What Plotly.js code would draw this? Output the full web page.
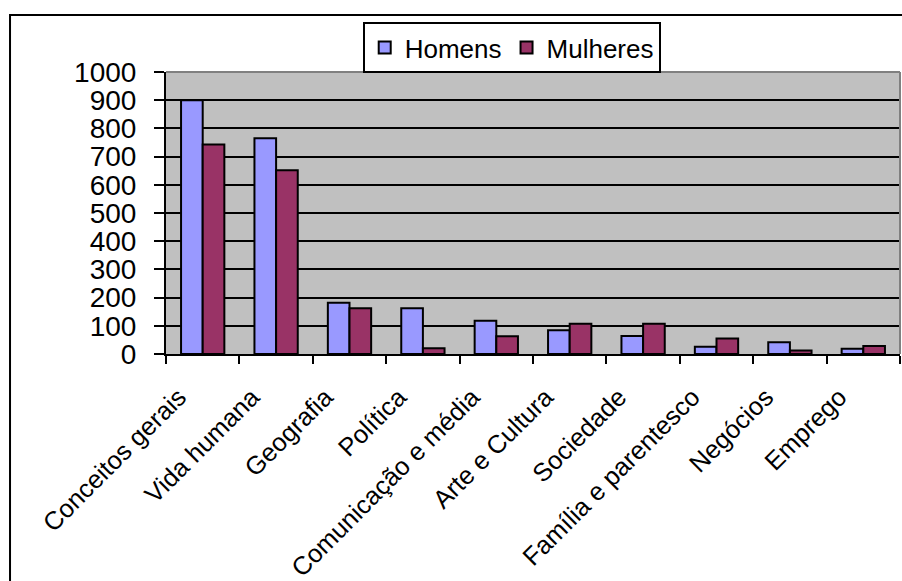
<!DOCTYPE html>
<html><head><meta charset="utf-8">
<script src="https://cdn.plot.ly/plotly-3.0.1.min.js"></script>
<style>html,body{margin:0;padding:0;background:#fff}</style>
</head><body>
<div id="chart" style="width:902px;height:581px"></div>
<script>
const categories = ["Conceitos gerais","Vida humana","Geografia","Política","Comunicação e média","Arte e Cultura","Sociedade","Família e parentesco","Negócios","Emprego"];
const homens = [900, 765, 182, 162, 118, 84, 64, 26, 42, 19];
const mulheres = [743, 652, 162, 20, 63, 107, 107, 55, 12, 28];
const yTicks = [0,100,200,300,400,500,600,700,800,900,1000];

const font = "Arial, 'Liberation Sans', sans-serif";
const traces = [
  {type:'bar', name:'Homens', x:categories, y:homens, marker:{color:'#9999FF', line:{color:'#000', width:2}}},
  {type:'bar', name:'Mulheres', x:categories, y:mulheres, marker:{color:'#993366', line:{color:'#000', width:2}}}
];
const layout = {
  width:902, height:581,
  margin:{l:166, r:2, t:72, b:227},
  paper_bgcolor:'#ffffff', plot_bgcolor:'#C0C0C0',
  barmode:'group', bargap:0.41, bargroupgap:0,
  font:{family:font, color:'#000'},
  showlegend:true,
  legend:{orientation:'h', x:0.268, xanchor:'left', y:1.177, yanchor:'top',
    bgcolor:'#fff', bordercolor:'#000', borderwidth:2, font:{size:26, family:font}},
  xaxis:{type:'category', tickson:'boundaries', ticks:'outside', ticklen:8, tickwidth:2, tickcolor:'#000',
    tickangle:-45, tickfont:{size:25.5, family:font}, showline:true, linecolor:'#000', linewidth:2,
    showgrid:false, zeroline:false, ticklabelshift:-24, ticklabelstandoff:16},
  yaxis:{range:[0,1000], tickvals:yTicks, ticks:'outside', ticklen:10, tickwidth:2, tickcolor:'#000',
    tickfont:{size:28, family:font}, showline:true, linecolor:'#000', linewidth:2,
    showgrid:true, gridcolor:'#000', gridwidth:2, zeroline:false, ticklabelstandoff:12},
  shapes:[
    {type:'line', xref:'paper', yref:'paper', x0:0, x1:1, y0:1, y1:1, line:{color:'#808080', width:2}},
    {type:'line', xref:'paper', yref:'paper', x0:1, x1:1, y0:0, y1:1, line:{color:'#808080', width:2}},
    {type:'rect', xref:'paper', yref:'paper', x0:-0.2125, x1:1.05, y0:-1, y1:1.202, line:{color:'#000', width:2}, fillcolor:'rgba(0,0,0,0)'}
  ]
};
Plotly.newPlot('chart', traces, layout, {displayModeBar:false, staticPlot:true});
</script>
</body></html>
